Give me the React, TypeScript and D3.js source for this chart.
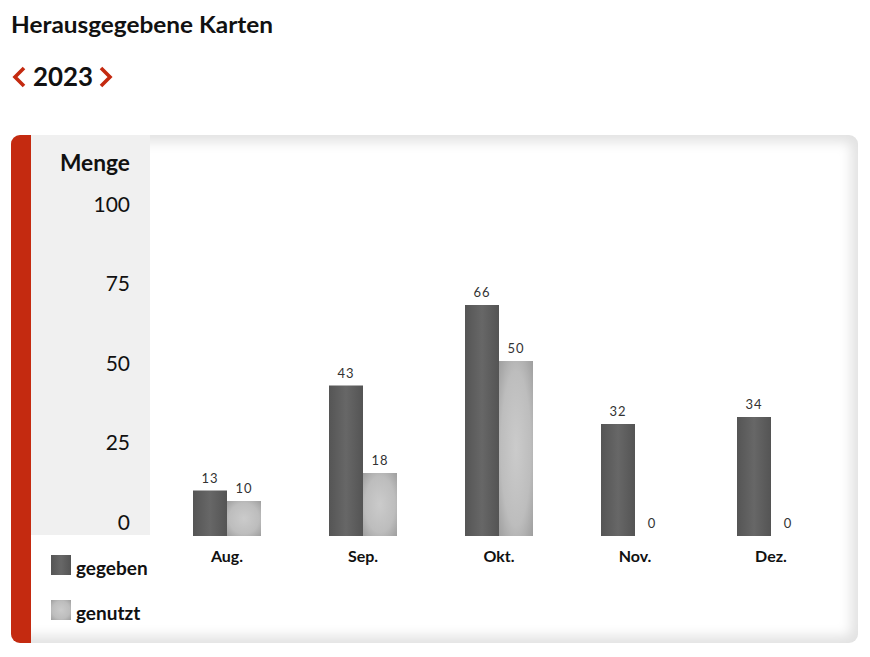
import React from "react";
import * as d3 from "d3";

const months = ["Aug.", "Sep.", "Okt.", "Nov.", "Dez."];
const gegeben = [13, 43, 66, 32, 34];
const genutzt = [10, 18, 50, 0, 0];
const yTicks = [0, 25, 50, 75, 100];
const seriesNames = ["gegeben", "genutzt"];

const FONT = "Lato, 'Open Sans', sans-serif";
const RED = "#c42a10";

export default function App() {
  const W = 870, H = 657;
  const x = d3.scaleBand<string>().domain(months).range([159, 839]).padding(0);
  const y = d3.scaleLinear().domain([0, 100]).range([536, 186]);
  const yLabel = d3.scaleLinear().domain([0, 100]).range([521, 203]);
  const barW = 34;
  const series = [gegeben, genutzt];
  const fills = ["url(#gDark)", "url(#gLight)"];

  return (
    <svg width={W} height={H} style={{ position: "fixed", left: 0, top: 0, display: "block" }} fontFamily={FONT}>
      <defs>
        <linearGradient id="gDark" x1="0" x2="1" y1="0" y2="0">
          <stop offset="0" stopColor="#555" />
          <stop offset="0.5" stopColor="#676767" />
          <stop offset="1" stopColor="#545454" />
        </linearGradient>
        <radialGradient id="gLight" cx="0.5" cy="0.5" r="0.8">
          <stop offset="0" stopColor="#cbcbcb" />
          <stop offset="0.55" stopColor="#bdbdbd" />
          <stop offset="1" stopColor="#939393" />
        </radialGradient>
        <filter id="blur" x="-5%" y="-5%" width="110%" height="110%">
          <feGaussianBlur stdDeviation="6" />
        </filter>
        <clipPath id="cardClip">
          <rect x={11} y={135} width={847} height={508} rx={9} />
        </clipPath>
      </defs>
      <rect width={W} height={H} fill="#fff" />
      <text x={11} y={33} fontSize={23} fontWeight={700} fill="#111" textLength={262} lengthAdjust="spacingAndGlyphs">
        Herausgegebene Karten
      </text>
      <path d="M24,68 L15,77 L24,86" fill="none" stroke={RED} strokeWidth={3.6} />
      <text x={33} y={86} fontSize={26} fontWeight={700} fill="#111" textLength={60} lengthAdjust="spacingAndGlyphs">2023</text>
      <path d="M101,68 L110,77 L101,86" fill="none" stroke={RED} strokeWidth={3.6} />

      <g clipPath="url(#cardClip)">
        <rect x={11} y={135} width={847} height={508} fill="#e2e2e2" />
        <rect x={19} y={142} width={832} height={494} rx={6} fill="#fff" filter="url(#blur)" />
        <rect x={31} y={135} width={119} height={400} fill="#f0f0f0" />
        <rect x={11} y={135} width={20} height={508} fill={RED} />
      </g>

      <text x={130} y={162} fontSize={22} fontWeight={700} textAnchor="end" dominantBaseline="central" fill="#111" textLength={70} lengthAdjust="spacingAndGlyphs">Menge</text>
      {yTicks.map((t) => (
        <text key={t} x={130} y={yLabel(t)} fontSize={21} textAnchor="end" dominantBaseline="central" fill="#111">
          {t}
        </text>
      ))}

      {months.map((m, i) => {
        const cx = (x(m) as number) + x.bandwidth() / 2;
        return (
          <g key={m}>
            {series.map((s, k) => {
              const bx = cx - barW + k * barW;
              const v = s[i];
              return (
                <g key={k}>
                  {v > 0 && (
                    <rect x={bx} y={y(v)} width={barW} height={y(0) - y(v)} fill={fills[k]} />
                  )}
                  <text x={bx + barW / 2} y={y(v) - 13} fontSize={13} textAnchor="middle" dominantBaseline="central" fill="#333" letterSpacing={1}>
                    {v}
                  </text>
                </g>
              );
            })}
            <text x={cx} y={555} fontSize={16} fontWeight={700} textAnchor="middle" dominantBaseline="central" fill="#111">
              {m}
            </text>
          </g>
        );
      })}

      {seriesNames.map((n, k) => (
        <g key={n}>
          <rect x={51} y={555 + k * 45} width={20} height={20} fill={fills[k]} />
          <text x={76} y={575 + k * 45} fontSize={19} fontWeight={700} fill="#111">{n}</text>
        </g>
      ))}
    </svg>
  );
}
